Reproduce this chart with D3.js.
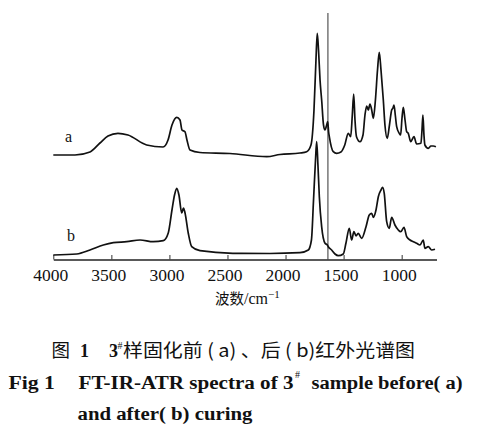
<!DOCTYPE html>
<html><head><meta charset="utf-8">
<script src="https://cdn.jsdelivr.net/npm/d3@7/dist/d3.min.js"></script>
<style>
html,body{margin:0;padding:0;background:#fff;}
svg{display:block;}
</style></head>
<body>
<svg id="chart" width="481" height="438"></svg>
<script>
// ---- data (wavenumber cm^-1, relative intensity in arbitrary units) ----
const waveTicks = [4000, 3500, 3000, 2500, 2000, 1500, 1000];
const markerLines = [1635];
const seriesNames = ["a", "b"];

const wnA = [4000,3813,3684,3598,3529,3443,3357,3196,3055,3012,2978,2937,2909,2892,2866,2849,2823,2737,2479,2162,2048,1876,1818,1781,1755,1738,1727,1716,1703,1689,1673,1660,1648,1637,1629,1623,1589,1560,1523,1490,1460,1439,1425,1413,1402,1389,1359,1333,1316,1301,1287,1273,1258,1244,1226,1208,1193,1178,1158,1144,1124,1105,1086,1075,1066,1055,1043,1021,1009,997,986,971,957,943,922,894,871,834,825,817,808,800,771,748,728,705];
const valA = [105,105,108,117,124,126.7,125,115,113,120,135,142.7,140,130,128.3,120,110,107.5,106.5,103.3,105.5,107,108.3,115,150,200,226.7,210,180,160,135,130,134,138.3,128,123.3,108.3,106.7,108,115,126.7,123.3,145,166,140,123.3,118.3,125,145,154,150,156,150,141.7,160,190,207.7,190,160,135,121.7,135,150,152,155,145,133.3,126.7,125,142,152.7,140,128.3,126.7,118.3,123.3,116,116.7,130,145,125,115,111.7,114,114,113.3];

const wnB = [4000,3798,3684,3569,3483,3368,3253,3139,3053,3010,2978,2956,2937,2918,2894,2879,2866,2838,2808,2737,2453,2134,1876,1804,1777,1759,1742,1732,1721,1709,1689,1660,1640,1632,1603,1574,1546,1503,1480,1451,1431,1411,1393,1374,1344,1307,1279,1258,1244,1221,1201,1178,1164,1150,1129,1107,1086,1058,1029,1008,980,957,928,900,871,842,814,800,771,742,713];
const valB = [5,6,10,15,17.3,18.3,20,18.3,19.3,27,50,65,71.7,65,47,52,47.3,27,13.3,9.3,6.7,6.5,7.3,10,20,60,100,118.3,95,63.3,33.3,16.7,15,13.3,10,6,4.3,6,16.7,31.7,20,28.3,24,26.7,21.7,33.3,45,46.7,42.7,50,63.3,70,72.7,66.7,38.3,31.7,42.7,35,30,28.3,32.7,23.3,20,18.3,16.7,15,20,11.7,13.3,10,10.7];

// ---- layout ----
const svg = d3.select("#chart");
const x = d3.scaleLinear().domain([4000, 700]).range([53.3, 436.5]);
const y = d3.scaleLinear().domain([0, 250]).range([260, 10]);
const axisY = 259.5;

const serif = "'Liberation Serif','DejaVu Serif',serif";
const cjk = "'Noto Sans CJK SC','Noto Sans CJK TC',sans-serif";

// axis
const axis = d3.axisBottom(x).tickValues(waveTicks).tickSize(0).tickPadding(0).tickFormat(d3.format("d"));
const gAxis = svg.append("g").attr("transform", `translate(0,${axisY})`).call(axis)
  .attr("font-family", serif);
gAxis.select(".domain").attr("stroke", "#222").attr("stroke-width", 1.3);
gAxis.selectAll(".tick line").remove();
gAxis.selectAll(".tick").append("line")
  .attr("x1", 0).attr("x2", 0).attr("y1", 0).attr("y2", -4.5)
  .attr("stroke", "#333").attr("stroke-width", 1);
gAxis.selectAll(".tick text")
  .attr("y", 21.5).attr("dy", 0).attr("dx", -3)
  .style("font-family", serif).attr("font-size", 17.5).attr("fill", "#111");

// marker vertical line
svg.selectAll("line.marker").data(markerLines).enter().append("line")
  .attr("class", "marker")
  .attr("x1", d => x(d)).attr("x2", d => x(d))
  .attr("y1", 13).attr("y2", axisY)
  .attr("stroke", "#333").attr("stroke-width", 1);

// curves
function pts(wn, val) {
  return wn.map((w, i) => [x(w), y(val[i])]).sort((p, q) => p[0] - q[0]);
}
const line = d3.line().curve(d3.curveMonotoneX);
const series = [pts(wnA, valA), pts(wnB, valB)];
svg.selectAll("path.spec").data(series).enter().append("path")
  .attr("class", "spec")
  .attr("d", d => line(d))
  .attr("fill", "none").attr("stroke", "#111").attr("stroke-width", 1.7)
  .attr("stroke-linejoin", "round");

// series labels
const labelPos = [[65, 142], [67, 241]];
svg.selectAll("text.lab").data(seriesNames).enter().append("text")
  .attr("class", "lab")
  .attr("x", (d, i) => labelPos[i][0]).attr("y", (d, i) => labelPos[i][1])
  .style("font-family", serif).attr("font-size", 16).attr("fill", "#111")
  .text(d => d);

// axis title
const t = svg.append("text").attr("x", 215).attr("y", 304).attr("fill", "#111");
t.append("tspan").style("font-family", cjk).attr("font-size", 14.5).text("波数");
t.append("tspan").style("font-family", serif).attr("font-size", 16).text("/cm");
t.append("tspan").style("font-family", serif).attr("font-size", 11).attr("dy", -6).text("−1");

// caption line 1
svg.append("text").attr("x", 51.5).attr("y", 357).style("font-family", cjk).attr("font-size", 18.5).attr("fill", "#111").text("图");
svg.append("text").attr("x", 80).attr("y", 357).style("font-family", serif).attr("font-weight", "bold").attr("font-size", 18).attr("fill", "#111").text("1");
svg.append("text").attr("x", 109).attr("y", 357).style("font-family", serif).attr("font-weight", "bold").attr("font-size", 18).attr("fill", "#111").text("3");
svg.append("text").attr("x", 117.5).attr("y", 349).style("font-family", serif).attr("font-size", 10).attr("fill", "#111").text("#");
svg.append("text").attr("x", 123).attr("y", 357).style("font-family", cjk).attr("font-size", 18.5).attr("fill", "#111")
  .attr("textLength", 292).attr("lengthAdjust", "spacingAndGlyphs")
  .text("样固化前 ( a) 、后 ( b)红外光谱图");

// caption line 2
const bold = (xx, yy, txt, len) => {
  const e = svg.append("text").attr("x", xx).attr("y", yy).style("font-family", serif)
    .attr("font-weight", "bold").attr("font-size", 18.5).attr("fill", "#111").text(txt);
  if (len) e.attr("textLength", len).attr("lengthAdjust", "spacingAndGlyphs");
  return e;
};
bold(8.5, 388.5, "Fig 1", 46.5);
bold(78.5, 388.5, "FT-IR-ATR spectra of 3", 215);
svg.append("text").attr("x", 295).attr("y", 378).style("font-family", serif).attr("font-size", 10).attr("fill", "#111").text("#");
bold(311.5, 388.5, "sample before( a)", 151);
// caption line 3
bold(77.5, 420, "and after( b) curing", 175);
</script>
</body></html>
